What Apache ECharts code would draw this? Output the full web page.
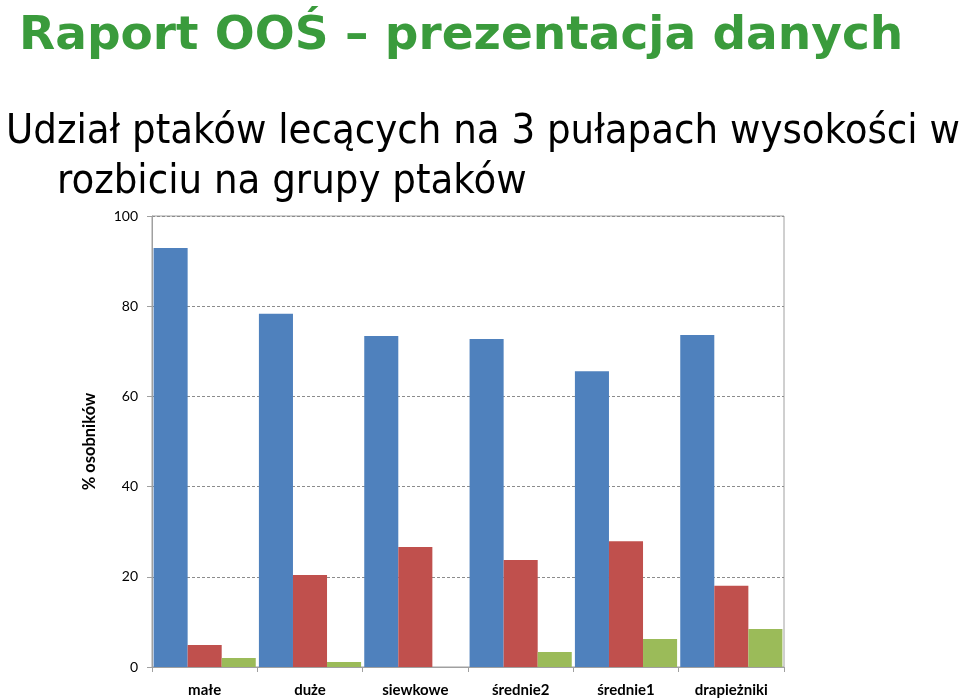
<!DOCTYPE html>
<html><head><meta charset="utf-8">
<script src="https://cdn.jsdelivr.net/npm/echarts@6/dist/echarts.min.js"></script>
<style>html,body{margin:0;padding:0;background:#fff}#c{width:960px;height:700px}</style>
</head><body><div id="c"></div>
<script>
const categories = ['małe', 'duże', 'siewkowe', 'średnie2', 'średnie1', 'drapieżniki'];
const seriesNames = ['pułap 1', 'pułap 2', 'pułap 3'];
const valuesLow = [92.9, 78.3, 73.4, 72.7, 65.6, 73.6];
const valuesMid = [4.9, 20.4, 26.6, 23.7, 27.9, 18.0];
const valuesHigh = [2.0, 1.1, 0, 3.3, 6.2, 8.4];
const colors = ['#4F81BD', '#C0504D', '#9BBB59'];

const chart = echarts.init(document.getElementById('c'));
chart.setOption({
  animation: false,
  backgroundColor: '#fff',
  title: [
    { text: 'Raport OOŚ – prezentacja danych', left: 14, top: 8,
      textStyle: { fontFamily: 'DejaVu Sans', fontWeight: 'bold', fontSize: 47, color: '#3A9B3C' } },
    { text: 'Udział ptaków lecących na 3 pułapach wysokości w', left: 1, top: 107,
      textStyle: { fontFamily: 'DejaVu Sans Condensed', fontWeight: 'normal', fontSize: 41.4, color: '#000' } },
    { text: 'rozbiciu na grupy ptaków', left: 52, top: 157,
      textStyle: { fontFamily: 'DejaVu Sans Condensed', fontWeight: 'normal', fontSize: 41.4, color: '#000' } }
  ],
  grid: { left: 152, right: 176, top: 216, bottom: 33, show: true, borderColor: '#A0A0A0', borderWidth: 1 },
  xAxis: {
    type: 'category', data: categories,
    axisLine: { lineStyle: { color: '#A0A0A0' } },
    axisTick: { show: true, length: 5, lineStyle: { color: '#A0A0A0' } },
    axisLabel: { fontFamily: 'Lato', fontWeight: 'bold', fontSize: 15, color: '#000', margin: 16 }
  },
  yAxis: {
    type: 'value', min: 0, max: 100, interval: 20,
    name: '% osobników', nameLocation: 'middle', nameGap: 54,
    nameTextStyle: { fontFamily: 'Lato', fontWeight: 'bold', fontSize: 16.5, color: '#000' },
    axisLine: { show: true, lineStyle: { color: '#A0A0A0' } },
    axisTick: { show: true, length: 5, lineStyle: { color: '#A0A0A0' } },
    axisLabel: { fontFamily: 'Lato', fontSize: 14, color: '#000', margin: 14 },
    splitLine: { show: true, lineStyle: { color: '#8C8C8C', type: [3, 2], width: 1 } }
  },
  series: [valuesLow, valuesMid, valuesHigh].map((d, i) => ({
    name: seriesNames[i], type: 'bar', data: d,
    itemStyle: { color: colors[i] },
    barGap: '0%', barCategoryGap: '3%'
  }))
});
</script></body></html>
